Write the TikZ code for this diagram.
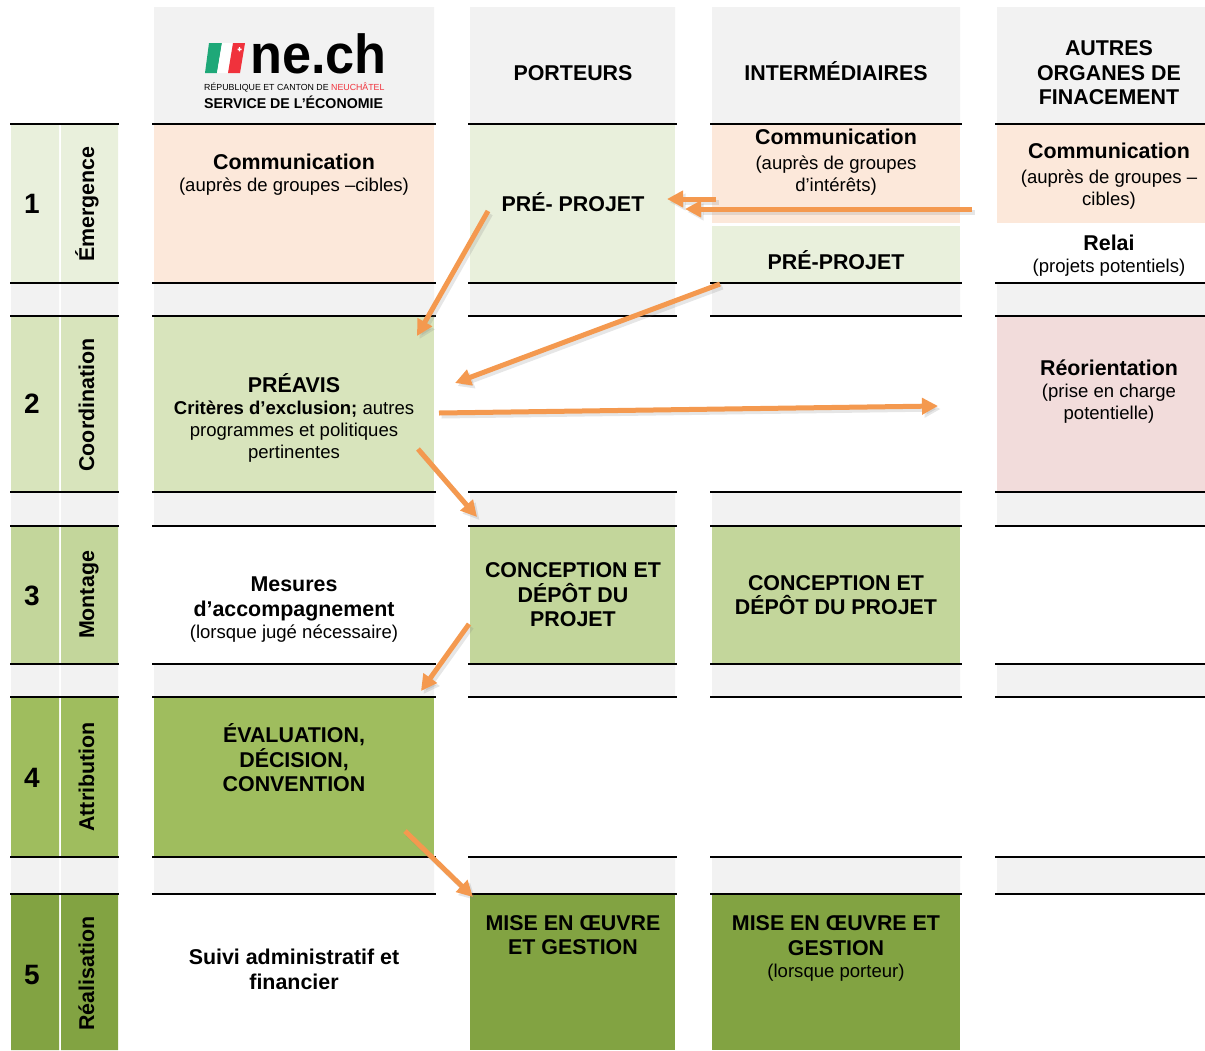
\documentclass[tikz,border=0pt]{standalone}
\usepackage{fontspec}
\setmainfont{Liberation Sans}
\usepackage{tikz}
\usetikzlibrary{arrows.meta}
\definecolor{peach}{HTML}{FCE8DA}
\definecolor{paleA}{HTML}{E9F0DC}
\definecolor{paleB}{HTML}{D8E4BC}
\definecolor{paleC}{HTML}{C3D69B}
\definecolor{paleD}{HTML}{9FBD5E}
\definecolor{paleE}{HTML}{82A342}
\definecolor{rose}{HTML}{F2DCDB}
\definecolor{band}{HTML}{F2F2F2}
\definecolor{flow}{HTML}{F4994F}
\definecolor{nered}{HTML}{F0323C}
\definecolor{negreen}{HTML}{1EA878}
\newcommand{\bigt}{\fontsize{21.4}{24.5}\selectfont\bfseries}
\newcommand{\smallt}{\fontsize{18.55}{22}\selectfont\mdseries}
\tikzset{
	txt/.style={inner sep=0,align=center,font=\bigt},
	vtxt/.style={inner sep=0,rotate=90,anchor=base,font=\bigt},
	num/.style={inner sep=0,font=\fontsize{28}{30}\selectfont\bfseries},
	flowline/.style={-{Triangle[length=16pt,width=16pt]},line width=5pt,flow,
		preaction={draw=black!50,opacity=.2,line width=5pt,transform canvas={xshift=2.5pt,yshift=-3pt}}}
}
\begin{document}
\begin{tikzpicture}[x=1pt,y=-1pt]
	\useasboundingbox (0,0) rectangle (1205,1050);
	% headers
	\fill[band] (154,7) rectangle (434,124) (470,7) rectangle (675,124) (712,7) rectangle (960,124) (997,7) rectangle (1205,124);
	% spacer bands
	\foreach \ya/\yb in {283/316,492/526,664/697,857/894}{
		\fill[band] (11,\ya) rectangle (59,\yb) (61,\ya) rectangle (118,\yb) (154,\ya) rectangle (434,\yb)
			(470,\ya) rectangle (675,\yb) (712,\ya) rectangle (960,\yb) (997,\ya) rectangle (1205,\yb);
	}
	% stage columns
	\foreach \ya/\yb/\col in {124/283/paleA,316/492/paleB,526/664/paleC,697/857/paleD,894/1050/paleE}{
		\fill[\col] (11,\ya) rectangle (59,\yb) (61,\ya) rectangle (118,\yb);
	}
	% coloured cells
	\fill[peach] (154,124) rectangle (434,283);
	\fill[paleA] (470,124) rectangle (675,283);
	\fill[peach] (712,124) rectangle (960,223);
	\fill[paleA] (712,226) rectangle (960,283);
	\fill[peach] (997,124) rectangle (1205,223);
	\fill[paleB] (154,316) rectangle (434,492);
	\fill[rose] (997,316) rectangle (1205,492);
	\fill[paleC] (470,526) rectangle (675,664);
	\fill[paleC] (712,526) rectangle (960,664);
	\fill[paleD] (154,697) rectangle (434,857);
	\fill[paleE] (470,894) rectangle (675,1050);
	\fill[paleE] (712,894) rectangle (960,1050);
	% rules
	\foreach \y in {124,283,316,492,526,664,697,857,894}{
		\draw[line width=1.5pt] (10,\y)--(119,\y) (152,\y)--(436,\y) (468,\y)--(677,\y) (710,\y)--(962,\y) (995,\y)--(1205,\y);
	}
	% logo
	\fill[negreen] (205,73)--(217,73)--(222,43)--(209,43)--cycle;
	\fill[white] (217,73)--(228,73)--(233,43)--(222,43)--cycle;
	\fill[nered] (228,73)--(240,73)--(245,43)--(233,43)--cycle;
	\fill[white] (237.5,48.5) rectangle (241.5,50) (238.8,47.2) rectangle (240.2,51.3);
	\node[inner sep=0,anchor=base west,xscale=.95] (logo) at (250,73) {\fontsize{55}{55}\selectfont\bfseries ne.ch};
	\node[inner sep=0,anchor=base west] (logoa) at (204,90.5) {\fontsize{8.8}{10}\selectfont RÉPUBLIQUE ET CANTON DE \textcolor{nered}{NEUCHÂTEL}};
	\node[inner sep=0,anchor=base west] (logob) at (204,108) {\fontsize{14.2}{15}\selectfont\bfseries SERVICE DE L’ÉCONOMIE};
	% head texts
	\node[txt] (porteurs) at (573,73) {PORTEURS};
	\node[txt] (interm) at (836,71) {INTERMÉDIAIRES};
	\node[txt] (autres) at (1109,73) {AUTRES\\ORGANES DE\\FINACEMENT};
	% stages
	\node[num] (n1) at (32,203.5) {1};
	\node[num] (n2) at (32,404) {2};
	\node[num] (n3) at (32,595.5) {3};
	\node[num] (n4) at (32,777.5) {4};
	\node[num] (n5) at (32,974.5) {5};
	\node[vtxt] (s1) at (94,204) {Émergence};
	\node[vtxt] (s2) at (94,405) {Coordination};
	\node[vtxt] (s3) at (94,595) {Montage};
	\node[vtxt] (s4) at (94,777) {Attribution};
	\node[vtxt] (s5) at (94,973.5) {Réalisation};
	% row 1
	\node[txt] (comA) at (294,174.5) {Communication\\[-2.5pt]\smallt (auprès de groupes –cibles)};
	\node[txt] (preA) at (573,202) {PRÉ- PROJET};
	\node[txt] (comB) at (836,162) {Communication\\\smallt (auprès de groupes\\[-2.5pt]\smallt d’intérêts)};
	\node[txt] (preB) at (836,260.5) {PRÉ-PROJET};
	\node[txt] (comC) at (1109,176) {Communication\\\smallt (auprès de groupes –\\[-2.5pt]\smallt cibles)};
	\node[txt] (relai) at (1109,256) {Relai\\[-2.5pt]\smallt (projets potentiels)};
	% row 2
	\node[txt] (preavis) at (294,417.5) {PRÉAVIS\\[-2.5pt]\smallt\bfseries Critères d’exclusion; \smallt autres\\[-2.5pt]\smallt programmes et politiques\\[-2.5pt]\smallt pertinentes};
	\node[txt] (reor) at (1109,391.5) {Réorientation\\[-2.5pt]\smallt (prise en charge\\[-2.5pt]\smallt potentielle)};
	% row 3
	\node[txt] (mesures) at (294,609.5) {Mesures\\d’accompagnement\\[-2.5pt]\smallt (lorsque jugé nécessaire)};
	\node[txt] (conA) at (573,595) {CONCEPTION ET\\DÉPÔT DU\\PROJET};
	\node[txt] (conB) at (836,595) {CONCEPTION ET\\DÉPÔT DU PROJET};
	% row 4
	\node[txt] (eval) at (294,758) {ÉVALUATION,\\DÉCISION,\\CONVENTION};
	% row 5
	\node[txt] (suivi) at (294,969.5) {Suivi administratif et\\financier};
	\node[txt] (mepA) at (573,935) {MISE EN ŒUVRE\\ET GESTION};
	\node[txt] (mepB) at (836,948.5) {MISE EN ŒUVRE ET\\GESTION\\[-2.5pt]\smallt (lorsque porteur)};
	% arrow ends
	\coordinate (a1) at (716,199); \coordinate (b1) at (667,199);
	\coordinate (a2) at (972,209); \coordinate (b2) at (685,209);
	\coordinate (a3) at (488,211); \coordinate (b3) at (417,336);
	\coordinate (a4) at (720,284); \coordinate (b4) at (455,383);
	\coordinate (a5) at (439,413); \coordinate (b5) at (938,406);
	\coordinate (a6) at (418,449); \coordinate (b6) at (477,517);
	\coordinate (a7) at (469,624); \coordinate (b7) at (421,691);
	\coordinate (a8) at (405,831); \coordinate (b8) at (473,897);
	\foreach \i in {1,...,8}{
		\draw[flowline] (a\i)--(b\i);
	}
\end{tikzpicture}
\end{document}
